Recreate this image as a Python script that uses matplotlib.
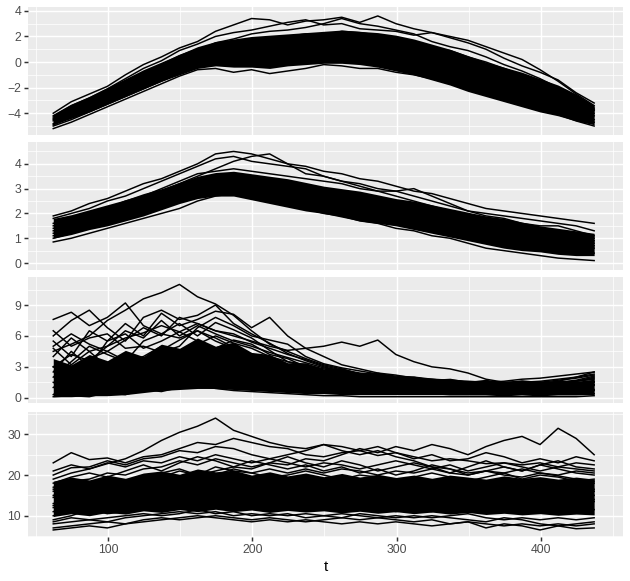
import numpy as np
import matplotlib.pyplot as plt
from matplotlib.ticker import MultipleLocator

plt.rcParams['font.family'] = ['Liberation Sans', 'DejaVu Sans']

# общая сетка по t
t = [62, 74.5, 87, 99.5, 112, 124.5, 137, 149.5, 162, 174.5, 187, 199.5, 212, 224.5, 237,
     249.5, 262, 274.5, 287, 299.5, 312, 324.5, 337, 349.5, 362, 374.5, 387, 399.5, 412,
     424.5, 437]

# панель 1: плотная полоса и отдельные кривые
p1_lo = [-4.9, -4.4, -3.9, -3.3, -2.7, -2.1, -1.5, -1.0, -0.5, -0.3, -0.4, -0.4, -0.5, -0.3, -0.2, -0.1,
         -0.1, -0.2, -0.4, -0.7, -1.0, -1.4, -1.8, -2.3, -2.7, -3.1, -3.5, -3.9, -4.2, -4.6, -4.9]
p1_hi = [-4.1, -3.3, -2.7, -2.0, -1.3, -0.6, 0.0, 0.6, 1.2, 1.6, 1.8, 2.0, 2.1, 2.2, 2.3, 2.4,
         2.5, 2.4, 2.3, 2.1, 1.8, 1.4, 1.0, 0.5, 0.0, -0.4, -0.8, -1.3, -1.8, -2.5, -3.4]
p1_lines = [
    [-4.0, -3.1, -2.5, -1.9, -1.0, -0.2, 0.4, 1.1, 1.6, 2.4, 2.9, 3.4, 3.3, 2.9, 3.2, 3.3, 3.5, 3.1, 3.6, 3.0, 2.6, 2.3, 1.9, 1.5, 1.0, 0.3, -0.3, -0.8, -1.4, -2.4, -3.2],
    [-4.2, -3.4, -2.8, -2.1, -1.3, -0.5, 0.1, 0.9, 1.4, 2.0, 2.3, 2.5, 2.8, 3.1, 3.3, 2.9, 3.0, 2.6, 2.5, 2.4, 2.1, 2.3, 2.0, 1.7, 1.2, 0.7, 0.2, -0.6, -1.5, -2.5, -3.4],
    [-4.5, -3.7, -3.1, -2.5, -1.8, -1.0, -0.4, 0.3, 0.9, 1.5, 1.8, 2.2, 2.4, 2.5, 2.7, 3.0, 3.4, 3.0, 2.8, 2.5, 2.2, 1.6, 1.2, 0.9, 0.4, -0.2, -0.7, -1.3, -2.0, -2.7, -3.6],
    [-4.3, -3.7, -3.3, -2.6, -2.0, -1.4, -0.7, -0.1, 0.5, 0.9, 1.2, 1.5, 1.6, 2.0, 2.2, 2.1, 2.4, 2.3, 2.1, 1.8, 1.5, 1.1, 0.7, 0.2, -0.3, -0.7, -1.2, -1.8, -2.3, -3.0, -3.8],
    [-4.6, -3.9, -3.4, -2.9, -2.2, -1.5, -0.9, -0.2, 0.3, 0.7, 0.9, 1.0, 1.2, 1.4, 1.5, 1.8, 1.9, 1.7, 1.6, 1.3, 1.0, 0.7, 0.3, -0.1, -0.6, -1.1, -1.6, -2.0, -2.6, -3.3, -4.0],
    [-4.8, -4.1, -3.6, -3.0, -2.4, -1.8, -1.2, -0.6, 0.0, 0.4, 0.6, 0.7, 0.9, 1.0, 1.2, 1.4, 1.4, 1.3, 1.2, 0.9, 0.6, 0.2, -0.2, -0.6, -1.1, -1.5, -2.0, -2.5, -3.0, -3.6, -4.2],
    [-4.9, -4.3, -3.8, -3.2, -2.6, -1.9, -1.3, -0.8, -0.2, 0.1, 0.3, 0.2, 0.5, 0.6, 0.8, 0.7, 0.9, 0.8, 0.7, 0.5, 0.2, -0.2, -0.6, -1.1, -1.5, -2.0, -2.4, -2.9, -3.4, -3.9, -4.5],
    [-5.0, -4.5, -3.9, -3.3, -2.7, -2.1, -1.5, -0.9, -0.4, -0.2, 0.0, -0.1, 0.1, 0.3, 0.4, 0.3, 0.5, 0.4, 0.3, 0.0, -0.3, -0.7, -1.1, -1.6, -2.0, -2.5, -2.9, -3.4, -3.8, -4.2, -4.7],
    [-5.2, -4.7, -4.1, -3.5, -2.9, -2.3, -1.7, -1.1, -0.6, -0.5, -0.8, -0.6, -0.9, -0.7, -0.5, -0.2, -0.3, -0.5, -0.5, -0.8, -1.0, -1.3, -1.7, -2.1, -2.5, -3.0, -3.4, -3.8, -4.1, -4.6, -5.0],
    [-4.4, -3.6, -3.0, -2.3, -1.6, -0.9, -0.2, 0.5, 1.0, 1.3, 1.5, 1.8, 1.9, 1.7, 2.0, 2.2, 2.1, 2.0, 1.9, 1.6, 1.3, 1.1, 0.9, 0.4, 0.0, -0.5, -1.0, -1.5, -2.1, -2.9, -3.7],
]

# панель 2
p2_lo = [1.0, 1.15, 1.35, 1.5, 1.7, 1.9, 2.15, 2.4, 2.6, 2.7, 2.7, 2.55, 2.4, 2.25, 2.1, 2.0,
         1.85, 1.7, 1.6, 1.5, 1.35, 1.2, 1.05, 0.9, 0.75, 0.6, 0.5, 0.45, 0.35, 0.3, 0.3]
p2_hi = [1.8, 1.95, 2.15, 2.35, 2.55, 2.8, 3.0, 3.25, 3.5, 3.65, 3.7, 3.6, 3.5, 3.4, 3.25, 3.1,
         3.0, 2.9, 2.75, 2.6, 2.5, 2.35, 2.2, 2.05, 1.9, 1.8, 1.65, 1.5, 1.4, 1.3, 1.2]
p2_lines = [
    [1.9, 2.1, 2.4, 2.6, 2.9, 3.2, 3.4, 3.7, 4.0, 4.4, 4.5, 4.4, 4.2, 4.0, 3.9, 3.7, 3.6, 3.4, 3.3, 3.1, 2.9, 2.8, 2.6, 2.4, 2.2, 2.1, 2.0, 1.9, 1.8, 1.7, 1.6],
    [1.8, 2.0, 2.2, 2.5, 2.7, 3.0, 3.3, 3.6, 3.9, 4.2, 4.3, 4.1, 4.0, 3.9, 3.8, 3.5, 3.3, 3.2, 3.0, 2.9, 2.7, 2.5, 2.3, 2.1, 2.0, 1.9, 1.8, 1.7, 1.6, 1.5, 1.3],
    [1.6, 1.8, 2.0, 2.2, 2.5, 2.7, 3.0, 3.3, 3.6, 3.7, 3.8, 3.7, 3.6, 3.5, 3.4, 3.3, 3.2, 3.0, 2.9, 2.9, 3.0, 2.7, 2.4, 2.1, 1.9, 1.8, 1.6, 1.5, 1.5, 1.3, 1.1],
    [1.5, 1.7, 1.9, 2.1, 2.3, 2.6, 2.8, 3.1, 3.3, 3.4, 3.5, 3.4, 3.3, 3.2, 3.1, 2.9, 2.8, 2.7, 2.6, 2.4, 2.3, 2.1, 2.0, 1.9, 1.8, 1.6, 1.5, 1.4, 1.3, 1.2, 1.0],
    [1.3, 1.5, 1.7, 1.9, 2.1, 2.4, 2.6, 2.8, 3.1, 3.2, 3.3, 3.1, 3.0, 2.9, 2.8, 2.7, 2.6, 2.4, 2.3, 2.2, 2.1, 1.9, 1.8, 1.6, 1.5, 1.3, 1.2, 1.1, 1.0, 0.9, 0.8],
    [1.2, 1.4, 1.6, 1.8, 2.0, 2.2, 2.4, 2.6, 2.9, 3.0, 3.1, 3.0, 2.9, 2.7, 2.6, 2.5, 2.4, 2.2, 2.1, 1.9, 1.8, 1.6, 1.5, 1.3, 1.2, 1.1, 1.0, 0.9, 0.8, 0.7, 0.6],
    [1.0, 1.2, 1.4, 1.6, 1.8, 2.0, 2.2, 2.5, 2.7, 2.8, 2.9, 2.8, 2.6, 2.5, 2.3, 2.2, 2.1, 1.9, 1.8, 1.6, 1.5, 1.3, 1.2, 1.0, 0.9, 0.8, 0.7, 0.6, 0.5, 0.45, 0.4],
    [0.85, 1.0, 1.2, 1.4, 1.6, 1.8, 2.0, 2.2, 2.5, 2.7, 2.8, 2.6, 2.5, 2.3, 2.2, 2.0, 1.9, 1.7, 1.6, 1.4, 1.3, 1.1, 1.0, 0.8, 0.6, 0.5, 0.4, 0.3, 0.2, 0.15, 0.1],
    [1.4, 1.6, 1.8, 2.0, 2.3, 2.6, 2.9, 3.2, 3.5, 3.8, 4.1, 4.3, 4.4, 4.0, 3.6, 3.5, 3.3, 3.1, 2.9, 2.7, 2.5, 2.3, 2.1, 1.9, 1.7, 1.6, 1.4, 1.3, 1.2, 1.0, 0.9],
    [1.1, 1.3, 1.5, 1.7, 1.9, 2.1, 2.3, 2.6, 2.8, 2.9, 3.0, 2.9, 2.7, 2.6, 2.5, 2.4, 2.2, 2.1, 1.9, 1.8, 1.7, 1.5, 1.4, 1.4, 1.3, 1.2, 1.1, 1.0, 0.9, 0.8, 0.7],
]

# панель 3
p3_lo = [0.1, 0.1, 0.2, 0.2, 0.3, 0.5, 0.7, 0.8, 0.9, 0.9, 0.8, 0.7, 0.6, 0.5, 0.4, 0.4,
         0.3, 0.3, 0.3, 0.3, 0.3, 0.3, 0.3, 0.3, 0.3, 0.3, 0.3, 0.3, 0.3, 0.3, 0.3]
p3_hi = [3.8, 3.2, 4.2, 3.6, 4.6, 4.0, 5.2, 4.8, 5.8, 5.0, 5.4, 4.4, 4.2, 3.4, 3.4, 2.8,
         2.9, 2.4, 2.5, 2.1, 2.1, 1.8, 1.9, 1.6, 1.8, 1.5, 1.7, 1.5, 1.7, 1.6, 1.8]
p3_lines = [
    [7.6, 8.3, 7.0, 7.8, 9.2, 7.0, 6.2, 5.8, 6.5, 5.5, 4.8, 4.2, 3.5, 3.0, 2.6, 2.2, 2.0, 1.8, 1.5, 1.4, 1.3, 1.2, 1.1, 1.0, 1.0, 0.9, 1.1, 1.0, 0.9, 1.0, 1.2],
    [4.5, 5.2, 6.0, 7.5, 8.5, 9.6, 10.2, 11.0, 9.8, 9.1, 8.0, 6.5, 5.2, 4.5, 3.8, 3.2, 2.8, 2.3, 2.0, 1.8, 1.6, 1.4, 1.3, 1.2, 1.3, 1.2, 1.4, 1.3, 1.5, 1.6, 1.8],
    [3.0, 4.2, 3.6, 5.0, 5.8, 6.3, 7.0, 6.4, 7.2, 6.5, 6.0, 5.5, 5.0, 4.6, 4.8, 5.0, 5.4, 5.0, 5.6, 4.2, 3.5, 3.0, 2.8, 2.4, 1.8, 1.5, 1.4, 1.5, 1.3, 1.6, 2.0],
    [6.0, 7.5, 8.5, 6.8, 5.5, 7.8, 8.5, 7.6, 8.0, 9.0, 7.2, 6.2, 5.3, 4.3, 3.6, 3.0, 2.6, 2.3, 2.0, 1.9, 1.7, 1.6, 1.5, 1.5, 1.4, 1.5, 1.6, 1.5, 1.7, 1.9, 2.2],
    [5.5, 4.0, 6.5, 5.5, 7.2, 6.0, 8.2, 7.0, 7.6, 8.4, 8.1, 6.8, 7.8, 6.0, 4.8, 4.0, 3.2, 2.8, 2.4, 2.2, 1.9, 1.8, 1.6, 1.5, 1.3, 1.4, 1.5, 1.4, 1.6, 2.0, 2.5],
    [2.0, 3.5, 5.0, 4.2, 3.5, 5.5, 6.2, 7.2, 6.0, 7.3, 6.6, 5.8, 4.6, 3.5, 3.0, 2.4, 2.0, 1.7, 1.5, 1.3, 1.2, 1.1, 1.0, 0.9, 0.9, 0.8, 1.0, 0.9, 1.0, 1.1, 1.3],
    [4.8, 3.2, 4.5, 3.0, 4.0, 3.4, 4.6, 5.6, 6.5, 5.8, 4.9, 4.2, 3.8, 3.2, 2.8, 2.5, 2.2, 2.0, 1.9, 1.7, 1.6, 1.5, 1.4, 1.2, 1.2, 1.1, 1.3, 1.2, 1.3, 1.4, 1.6],
    [0.3, 1.5, 2.8, 2.0, 3.2, 2.5, 3.6, 4.0, 4.8, 4.2, 3.8, 3.5, 3.0, 2.6, 2.4, 2.0, 1.8, 1.6, 1.4, 1.2, 1.0, 0.9, 0.8, 0.7, 0.6, 0.5, 0.6, 0.5, 0.6, 0.7, 0.8],
    [1.5, 0.5, 1.8, 2.5, 1.6, 2.8, 3.0, 2.4, 3.4, 3.0, 2.6, 2.2, 1.8, 1.5, 1.3, 1.0, 0.8, 0.7, 0.6, 0.5, 0.4, 0.4, 0.3, 0.3, 0.3, 0.2, 0.3, 0.2, 0.3, 0.3, 0.4],
    [0.1, 0.2, 0.1, 0.5, 0.3, 0.8, 0.6, 1.0, 1.2, 0.9, 0.7, 0.6, 0.5, 0.4, 0.3, 0.2, 0.2, 0.1, 0.1, 0.1, 0.1, 0.1, 0.1, 0.1, 0.1, 0.1, 0.1, 0.1, 0.1, 0.1, 0.2],
    [3.0, 2.2, 3.8, 4.5, 3.6, 4.0, 5.0, 4.4, 5.2, 6.0, 5.3, 4.8, 4.0, 3.5, 3.2, 2.8, 2.5, 2.2, 1.9, 1.8, 1.6, 1.5, 1.5, 1.4, 1.4, 1.3, 1.5, 1.6, 1.8, 2.0, 2.3],
    [2.5, 4.5, 3.0, 5.5, 6.2, 4.8, 5.5, 6.4, 5.5, 4.8, 5.6, 5.2, 4.2, 3.8, 3.0, 2.6, 2.4, 2.0, 1.7, 1.6, 1.4, 1.3, 1.2, 1.1, 1.0, 1.0, 1.1, 1.0, 1.2, 1.3, 1.5],
    [1.0, 2.0, 1.2, 1.5, 2.2, 1.8, 2.4, 3.2, 2.8, 3.6, 3.2, 2.9, 2.5, 2.0, 1.6, 1.4, 1.2, 1.0, 0.9, 0.8, 0.7, 0.6, 0.6, 0.5, 0.5, 0.5, 0.5, 0.4, 0.5, 0.6, 0.7],
    [6.5, 5.0, 5.8, 6.2, 4.8, 5.0, 4.4, 5.0, 6.8, 7.8, 7.0, 6.0, 5.6, 5.2, 4.0, 3.3, 2.9, 2.6, 2.3, 2.1, 2.0, 1.8, 1.7, 1.6, 1.5, 1.6, 1.8, 1.9, 2.1, 2.3, 2.5],
    [4.0, 5.8, 4.5, 5.0, 6.5, 5.8, 7.5, 6.0, 7.0, 6.2, 5.5, 5.0, 4.4, 3.9, 3.4, 2.9, 2.6, 2.3, 2.1, 1.9, 1.8, 1.7, 1.6, 1.4, 1.5, 1.4, 1.6, 1.5, 1.4, 1.6, 1.9],
    [5.0, 6.2, 5.2, 4.5, 5.6, 6.8, 6.0, 7.8, 7.2, 6.5, 6.2, 5.4, 4.8, 4.2, 3.7, 3.1, 2.7, 2.4, 2.2, 2.0, 1.9, 1.7, 1.6, 1.5, 1.4, 1.3, 1.4, 1.3, 1.5, 1.7, 2.1],
]

# панель 4
p4_lo = [9.8, 10.5, 10.0, 10.8, 10.4, 11.2, 10.8, 11.5, 11.0, 11.6, 11.0, 11.4, 10.8, 11.3, 10.9, 11.2,
         10.7, 11.1, 10.6, 11.0, 10.5, 10.9, 10.4, 10.8, 10.3, 10.6, 10.2, 10.5, 10.1, 10.4, 10.2]
p4_hi = [18.5, 19.5, 18.8, 20.0, 19.2, 20.5, 21.0, 20.2, 21.5, 20.8, 21.2, 20.0, 20.8, 19.8, 20.5, 19.6,
         20.4, 19.5, 20.2, 19.4, 20.0, 19.2, 20.0, 19.5, 19.0, 19.8, 19.2, 19.6, 19.0, 19.5, 19.0]
p4_lines = [
    [23.0, 25.5, 23.8, 24.2, 23.0, 24.5, 25.0, 26.5, 28.0, 27.5, 29.0, 28.0, 27.0, 26.5, 25.0, 24.5, 25.5, 26.0, 24.8, 25.5, 24.5, 23.5, 24.0, 23.5, 22.8, 23.0, 22.5, 23.0, 22.0, 21.5, 21.0],
    [19.0, 20.5, 21.5, 22.8, 24.0, 26.0, 28.5, 30.5, 32.0, 34.0, 31.0, 29.5, 28.0, 27.0, 26.5, 27.5, 26.0, 25.0, 26.0, 24.5, 23.5, 22.0, 21.5, 20.5, 21.0, 20.0, 19.5, 20.5, 19.8, 19.0, 18.5],
    [16.0, 17.5, 18.0, 17.2, 18.5, 19.0, 20.5, 21.5, 20.0, 21.0, 22.0, 21.5, 23.0, 22.5, 24.0, 23.5, 25.0, 26.5, 25.5, 27.0, 26.0, 27.5, 26.5, 25.0, 27.0, 28.5, 29.5, 27.5, 31.5, 29.0, 25.0],
    [20.0, 21.8, 22.0, 23.5, 22.5, 24.0, 24.5, 26.0, 25.5, 27.0, 26.5, 25.0, 24.0, 25.0, 26.0, 27.5, 27.0, 26.0, 27.0, 25.5, 24.0, 25.0, 23.5, 24.0, 25.5, 24.5, 23.0, 24.0, 23.0, 24.5, 23.5],
    [18.0, 19.5, 20.5, 19.5, 21.0, 22.5, 21.0, 23.0, 24.5, 23.5, 22.0, 23.5, 22.5, 21.5, 22.5, 21.0, 22.0, 20.5, 21.5, 20.0, 21.0, 22.5, 21.5, 20.0, 21.0, 22.0, 21.0, 22.5, 21.5, 20.5, 20.0],
    [15.0, 16.5, 15.5, 17.0, 18.0, 17.0, 18.5, 19.5, 18.5, 20.0, 19.0, 18.0, 19.0, 18.0, 17.5, 18.5, 17.5, 18.0, 17.0, 18.0, 17.5, 16.5, 17.5, 18.5, 17.5, 16.5, 17.5, 18.0, 17.0, 17.5, 18.0],
    [13.0, 14.0, 15.5, 14.5, 15.0, 16.5, 16.0, 17.5, 16.5, 17.0, 16.0, 16.5, 15.5, 16.0, 17.0, 16.0, 15.5, 16.0, 15.0, 15.5, 16.5, 15.5, 15.0, 16.0, 15.0, 14.5, 15.5, 16.0, 15.0, 14.5, 15.0],
    [12.0, 12.5, 13.5, 13.0, 14.0, 13.5, 14.5, 15.0, 14.0, 15.0, 14.5, 14.0, 14.5, 13.5, 14.0, 13.5, 14.0, 13.0, 13.5, 14.0, 13.5, 13.0, 13.5, 14.5, 13.5, 13.0, 14.0, 13.5, 13.0, 13.5, 14.0],
    [10.0, 11.0, 10.5, 11.5, 12.5, 12.0, 13.0, 12.5, 13.5, 12.5, 12.0, 12.5, 11.5, 12.0, 11.5, 12.0, 11.0, 11.5, 12.0, 11.0, 11.5, 11.0, 12.0, 11.5, 11.0, 11.5, 10.5, 11.0, 11.5, 11.0, 11.5],
    [7.0, 7.5, 8.0, 8.5, 8.0, 9.0, 9.5, 9.0, 9.5, 10.0, 9.5, 9.0, 9.5, 9.0, 8.5, 9.0, 9.5, 9.0, 9.5, 9.0, 8.5, 9.0, 8.0, 8.5, 8.0, 7.5, 8.0, 7.5, 8.0, 7.5, 8.0],
    [8.0, 8.5, 9.0, 8.5, 9.5, 10.0, 10.5, 11.0, 10.5, 11.0, 10.0, 10.5, 10.0, 10.5, 9.5, 10.0, 10.5, 10.0, 9.5, 10.0, 9.5, 10.0, 9.5, 9.0, 8.5, 9.5, 9.0, 8.0, 7.5, 8.0, 8.5],
    [6.5, 7.0, 7.5, 7.0, 8.0, 8.5, 9.0, 9.5, 10.0, 9.5, 9.0, 8.5, 9.0, 8.5, 9.0, 8.5, 8.0, 8.5, 8.0, 8.5, 8.0, 7.5, 8.0, 8.5, 7.0, 8.0, 7.5, 6.5, 7.5, 6.8, 7.0],
    [14.5, 16.0, 17.0, 16.0, 17.5, 19.0, 18.0, 19.5, 21.0, 20.0, 21.5, 20.5, 19.5, 20.0, 21.0, 20.0, 19.0, 20.0, 19.5, 18.5, 19.5, 20.5, 19.5, 18.5, 19.5, 20.5, 19.0, 20.0, 19.5, 18.5, 19.0],
    [11.0, 12.5, 12.0, 13.5, 13.0, 14.5, 15.5, 14.5, 16.0, 15.5, 14.5, 15.5, 14.5, 15.0, 16.0, 15.0, 14.0, 15.0, 14.5, 15.5, 14.5, 15.0, 16.5, 15.5, 14.5, 15.5, 16.5, 15.5, 14.5, 15.5, 16.0],
    [17.0, 18.5, 19.0, 20.5, 20.0, 21.5, 22.0, 23.5, 22.5, 24.0, 23.0, 22.0, 23.0, 24.5, 23.0, 22.0, 23.5, 22.5, 21.0, 22.0, 23.0, 22.0, 20.5, 22.0, 23.5, 22.0, 21.0, 22.5, 23.5, 22.0, 21.5],
    [9.0, 10.0, 11.5, 10.5, 11.0, 12.0, 11.5, 13.0, 12.0, 13.0, 12.5, 13.5, 12.5, 13.0, 12.0, 13.0, 12.5, 12.0, 13.0, 12.5, 12.0, 12.5, 13.5, 12.5, 12.0, 13.0, 12.5, 12.0, 13.0, 14.0, 13.5],
    [21.0, 22.5, 21.5, 23.0, 22.0, 23.5, 23.0, 24.5, 23.5, 25.0, 24.0, 23.0, 24.0, 23.0, 22.0, 23.0, 22.5, 21.5, 22.5, 23.5, 22.5, 21.5, 22.5, 21.0, 22.0, 23.0, 22.0, 21.0, 22.0, 23.0, 22.5],
    [16.5, 18.0, 17.5, 19.0, 18.0, 20.0, 19.5, 21.0, 20.0, 22.0, 21.0, 20.5, 21.5, 20.5, 21.5, 20.5, 21.5, 21.0, 20.0, 21.0, 20.5, 21.5, 20.5, 20.0, 21.0, 20.5, 21.5, 20.5, 20.0, 21.0, 20.5],
    [8.5, 9.5, 9.0, 9.5, 10.0, 10.5, 10.0, 10.5, 11.5, 10.5, 11.0, 10.0, 10.5, 10.0, 10.5, 10.0, 9.5, 10.5, 10.0, 9.5, 10.0, 9.5, 10.0, 10.5, 9.5, 9.0, 9.5, 9.0, 9.5, 9.0, 9.5],
    [12.5, 14.0, 13.0, 15.0, 14.5, 16.0, 17.0, 16.0, 17.5, 18.5, 17.5, 18.5, 17.5, 17.0, 18.0, 17.0, 18.0, 17.5, 16.5, 17.0, 18.0, 17.5, 16.5, 17.0, 16.0, 17.0, 18.0, 17.0, 16.5, 17.0, 16.5],
]

panels = [
    (p1_lo, p1_hi, p1_lines, (-5.7, 4.3), 2, 1),
    (p2_lo, p2_hi, p2_lines, (-0.28, 4.88), 1, 0.5),
    (p3_lo, p3_hi, p3_lines, (-0.51, 11.72), 3, 1.5),
    (p4_lo, p4_hi, p4_lines, (4.77, 35.5), 10, 5),
]

W, H = 630, 581
fig = plt.figure(figsize=(W / 100, H / 100), dpi=100)
rows = [(7, 135), (142, 270), (277, 403), (412, 537)]
left, right = 28, 623

for k, ((lo, hi, lines, ylim, major, minor), (top, bot)) in enumerate(zip(panels, rows)):
    ax = fig.add_axes([left / W, 1 - bot / H, (right - left) / W, (bot - top) / H])
    ax.set_facecolor('#EBEBEB')
    for s in ax.spines.values():
        s.set_visible(False)
    ax.fill_between(t, lo, hi, color='black', lw=0, zorder=2)
    for yy in lines:
        ax.plot(t, yy, color='black', lw=1.07, zorder=3)
    ax.set_xlim(44.5, 457)
    ax.set_ylim(*ylim)
    ax.xaxis.set_major_locator(MultipleLocator(100))
    ax.xaxis.set_minor_locator(MultipleLocator(50))
    ax.yaxis.set_major_locator(MultipleLocator(major))
    ax.yaxis.set_minor_locator(MultipleLocator(minor))
    ax.grid(which='major', color='white', lw=1.07)
    ax.grid(which='minor', color='white', lw=0.53)
    ax.set_axisbelow(True)
    ax.tick_params(which='minor', length=0)
    ax.tick_params(which='major', length=2.75, width=1.07, color='#333333',
                   labelcolor='#4D4D4D', labelsize=8.8, pad=2.2)
    ax.yaxis.set_major_formatter(plt.FuncFormatter(lambda v, p: f'{v:g}'.replace('-', '\u2212')))
    if k < 3:
        ax.tick_params(axis='x', which='both', bottom=False, labelbottom=False)
    else:
        ax.set_xlabel('t', fontsize=11, labelpad=3)

fig.savefig('out.png', dpi=100)
